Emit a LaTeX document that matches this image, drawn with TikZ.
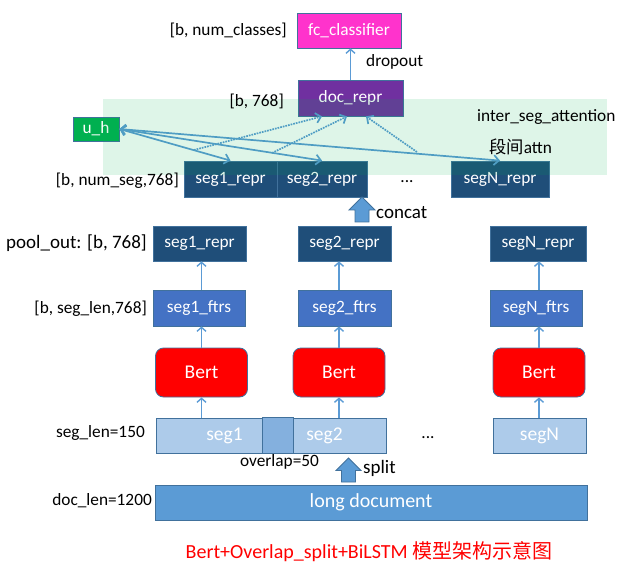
\documentclass[tikz,border=0pt]{standalone}
\usepackage{fontspec}
\setmainfont{Carlito}
\newfontfamily\cjk{Noto Sans CJK SC}
\usepackage{tikz}
\usetikzlibrary{arrows.meta}
\definecolor{edge}{HTML}{41719C}
\definecolor{arrowblue}{HTML}{5B9BD5}
\definecolor{clspink}{HTML}{FF33CC}
\definecolor{docpurple}{HTML}{7030A0}
\definecolor{uhgreen}{HTML}{00B050}
\definecolor{reprblue}{HTML}{1F4E79}
\definecolor{ftrsblue}{HTML}{4472C4}
\definecolor{segblue}{HTML}{ADCBEA}
\definecolor{overlapblue}{HTML}{84B0DE}
\definecolor{docblue}{HTML}{5B9BD5}
\tikzstyle{box} = [rectangle, draw=edge, line width=0.8pt, text=white, inner sep=0pt, minimum height=35pt, text centered]
\tikzstyle{repr} = [box, fill=reprblue]
\tikzstyle{ftrs} = [box, fill=ftrsblue, minimum height=36pt]
\tikzstyle{bert} = [box, fill=red, rounded corners=8pt, minimum width=92pt, minimum height=49pt, font=\fontsize{19.5}{22}\selectfont]
\tikzstyle{seg} = [box, fill=segblue, font=\fontsize{19.5}{22}\selectfont]
\tikzstyle{txt} = [inner sep=0pt, text=black]
\tikzstyle{dim} = [txt, anchor=east]
\tikzstyle{fat} = [fill=docblue, draw=edge, line width=0.8pt]
\tikzstyle{line} = [draw=arrowblue, line width=1.4pt, -{Straight Barb[length=4pt, width=9pt]}]
\tikzstyle{attn} = [draw=arrowblue, line width=1.7pt, {Straight Barb[length=5pt, width=10pt]}-{Straight Barb[length=5pt, width=10pt]}]
\tikzstyle{dots} = [draw=arrowblue, line width=1.7pt, densely dotted, -{Straight Barb[length=5pt, width=10pt]}]

\begin{document}
\begin{tikzpicture}[x=1pt, y=-1pt, font=\fontsize{17.3}{20}\selectfont]
    \useasboundingbox (0,0) rectangle (631,569);

    % head
    \node[box, fill=clspink, minimum width=104pt](cls) at (349,30.5){fc\_classifier};
    \node[box, fill=docpurple, minimum width=105pt, minimum height=36pt](doc) at (350.5,98){doc\_repr};
    \node[box, fill=uhgreen, minimum width=46pt, minimum height=24pt](uh) at (96,129){u\_h};

    % concatenated segment representations
    \node[repr, minimum width=93pt, minimum height=36pt](cat1) at (230.5,179){seg1\_repr};
    \node[repr, minimum width=90pt, minimum height=36pt](cat2) at (322,179){seg2\_repr};
    \node[repr, minimum width=98pt, minimum height=36pt](catN) at (500,179){segN\_repr};

    % per segment columns
    \node[repr, minimum width=93pt](pool1) at (199.5,243.5){seg1\_repr};
    \node[repr, minimum width=93pt](pool2) at (344.5,243.5){seg2\_repr};
    \node[repr, minimum width=96pt](poolN) at (538,243.5){segN\_repr};

    \node[ftrs, minimum width=92pt](ftrs1) at (199,308){seg1\_ftrs};
    \node[ftrs, minimum width=93pt](ftrs2) at (344.5,308){seg2\_ftrs};
    \node[ftrs, minimum width=92pt](ftrsN) at (536,308){segN\_ftrs};

    \node[bert](bert1) at (201.5,372.5){Bert};
    \node[bert](bert2) at (339,372.5){Bert};
    \node[bert](bertN) at (539,372.5){Bert};

    \node[seg, minimum width=137pt](seg1) at (224.5,435.5){seg1};
    \node[seg, minimum width=123pt](seg2) at (324.5,435.5){seg2};
    \draw[fill=overlapblue, draw=edge, line width=0.8pt] (seg2.south west) rectangle (seg1.north east);
    \node[seg, minimum width=93pt](segN) at (539.5,435.5){segN};

    \node[box, fill=docblue, minimum width=432pt, font=\fontsize{20}{24}\selectfont](long) at (371,502.5){long document};

    % block arrows
    \draw[fat] (362,197) -- (375,210) -- (369,210) -- (369,222) -- (355,222) -- (355,210) -- (349,210) -- cycle;
    \draw[fat] (348.5,458) -- (361,470.5) -- (355.5,470.5) -- (355.5,482) -- (341.5,482) -- (341.5,470.5) -- (336,470.5) -- cycle;

    % connectors
    \path[line] (doc.north) -- (doc.north |- cls.south);

    \path[line] (seg1.north -| bert1) -- (bert1.south);
    \path[line] (seg2.north -| bert2) -- (bert2.south);
    \path[line] (segN.north -| bertN) -- (bertN.south);
    \path[line] (bert1.north) -- (bert1.north |- ftrs1.south);
    \path[line] (bert2.north) -- (bert2.north |- ftrs2.south);
    \path[line] (bertN.north) -- (bertN.north |- ftrsN.south);
    \path[line] (ftrs1.north -| bert1) -- (pool1.south -| bert1);
    \path[line] (ftrs2.north -| bert2) -- (pool2.south -| bert2);
    \path[line] (ftrsN.north -| bertN) -- (poolN.south -| bertN);

    \path[attn] (uh.east) -- (cat1.north);
    \path[attn] (uh.east) -- (cat2.north);
    \path[attn] (uh.east) -- (catN.north);

    \coordinate (d1) at (194,150);
    \coordinate (d2) at (272,153);
    \coordinate (d3) at (417,152);
    \path[dots] (d1) -- ([xshift=-28.5pt]doc.south);
    \path[dots] (d2) -- ([xshift=-3.5pt]doc.south);
    \path[dots] (d3) -- ([xshift=15.5pt]doc.south);

    % attention area
    \fill[uhgreen, fill opacity=0.13] (103,99) rectangle (607,175);

    % labels
    \node[dim] at (287,30){[b, num\_classes]};
    \node[dim] at (284,101){[b, 768]};
    \node[dim] at (179,181){[b, num\_seg,768]};
    \node[dim, font=\fontsize{19}{22}\selectfont] at (147,243){pool\_out: [b, 768]};
    \node[dim] at (147,309){[b, seg\_len,768]};
    \node[dim] at (145,433){seg\_len=150};
    \node[dim] at (152,501){doc\_len=1200};

    \node[txt, anchor=west] at (366,62){dropout};
    \node[txt, anchor=west] at (477,117){inter\_seg\_attention};
    \node[txt, anchor=west] at (489,147){{\cjk 段间}attn};
    \node[txt, anchor=west, font=\fontsize{19}{22}\selectfont] at (376,213){concat};
    \node[txt, anchor=west, font=\fontsize{19}{22}\selectfont] at (363,468){split};
    \node[txt] at (279.5,462){overlap=50};
    \node[txt] at (407,182){...};
    \node[txt] at (428,438){...};

    \node[txt, text=red, font=\fontsize{20}{24}\selectfont] at (369,552){Bert+Overlap\_split+BiLSTM {\cjk 模型架构示意图}};
\end{tikzpicture}
\end{document}
